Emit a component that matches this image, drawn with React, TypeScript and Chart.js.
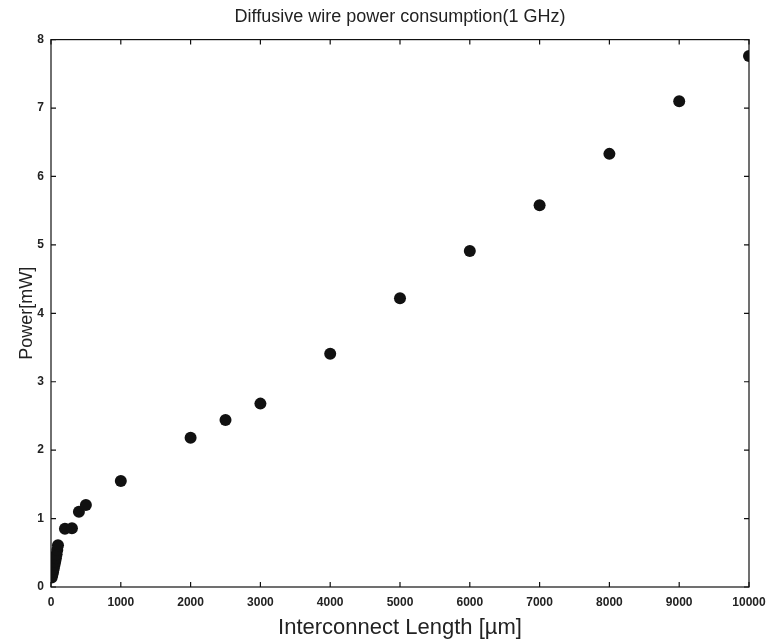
import React, { useEffect, useRef } from "react";
import { Chart, registerables } from "chart.js";

Chart.register(...registerables);

const lengthsUm = [10, 20, 30, 40, 50, 60, 70, 80, 90, 100, 200, 300, 400, 500, 1000, 2000, 2500, 3000, 4000, 5000, 6000, 7000, 8000, 9000, 10000];
const powerMw = [0.14, 0.18, 0.22, 0.27, 0.32, 0.37, 0.42, 0.48, 0.54, 0.61, 0.85, 0.86, 1.1, 1.2, 1.55, 2.18, 2.44, 2.68, 3.41, 4.22, 4.91, 5.58, 6.33, 7.1, 7.76];

const xTicks = [0, 1000, 2000, 3000, 4000, 5000, 6000, 7000, 8000, 9000, 10000];
const yTicks = [0, 1, 2, 3, 4, 5, 6, 7, 8];

const titleText = "Diffusive wire power consumption(1 GHz)";
const xTitle = "Interconnect Length [\u00b5m]";
const yTitle = "Power[mW]";

const FONT = "'Liberation Sans', Arial, Helvetica, sans-serif";

const framePlugin = {
  id: "frame",
  afterDraw(chart: any) {
    const { ctx, chartArea } = chart;
    const { left, right, top, bottom } = chartArea;
    const xs = chart.scales.x;
    const ys = chart.scales.y;
    ctx.save();
    ctx.strokeStyle = "#111";
    ctx.lineWidth = 1.2;
    ctx.strokeRect(left, top, right - left, bottom - top);
    const tl = 5;
    ctx.beginPath();
    xTicks.forEach((v) => {
      const px = xs.getPixelForValue(v);
      ctx.moveTo(px, bottom);
      ctx.lineTo(px, bottom - tl);
      ctx.moveTo(px, top);
      ctx.lineTo(px, top + tl);
    });
    yTicks.forEach((v) => {
      const py = ys.getPixelForValue(v);
      ctx.moveTo(left, py);
      ctx.lineTo(left + tl, py);
      ctx.moveTo(right, py);
      ctx.lineTo(right - tl, py);
    });
    ctx.stroke();
    ctx.restore();
  },
};

export default function App() {
  const ref = useRef<HTMLCanvasElement | null>(null);
  useEffect(() => {
    if (!ref.current) return;
    const chart = new Chart(ref.current, {
      type: "scatter",
      data: {
        datasets: [
          {
            data: lengthsUm.map((x, i) => ({ x, y: powerMw[i] })),
            backgroundColor: "#111",
            borderColor: "#111",
            pointRadius: 6,
            pointHoverRadius: 6,
            borderWidth: 0,
          },
        ],
      },
      options: {
        animation: false,
        responsive: false,
        devicePixelRatio: 1,
        layout: { padding: { left: 0, right: 20, top: 0, bottom: 0 } },
        plugins: {
          legend: { display: false },
          tooltip: { enabled: false },
          title: {
            display: true,
            fullSize: false,
            text: titleText,
            color: "#222",
            font: { family: FONT, size: 18, weight: "normal" },
            padding: { top: 6, bottom: 12 },
          },
        },
        scales: {
          x: {
            type: "linear",
            min: 0,
            max: 10000,
            afterBuildTicks: (s: any) => {
              s.ticks = xTicks.map((v) => ({ value: v }));
            },
            afterFit: (s: any) => {
              s.height = 54;
              s.paddingLeft = 0;
              s.paddingRight = 0;
            },
            grid: { display: false, drawTicks: false },
            border: { display: false },
            ticks: {
              color: "#222",
              padding: 8,
              maxRotation: 0,
              autoSkip: false,
              font: { family: FONT, size: 12, weight: "bold" },
              callback: (v: any) => String(v),
            },
            title: {
              display: true,
              text: xTitle,
              color: "#222",
              font: { family: FONT, size: 22, weight: "normal" },
              padding: { top: 0, bottom: 0 },
            },
          },
          y: {
            type: "linear",
            min: 0,
            max: 8,
            afterBuildTicks: (s: any) => {
              s.ticks = yTicks.map((v) => ({ value: v }));
            },
            afterFit: (s: any) => {
              s.width = 51;
              s.paddingTop = 0;
              s.paddingBottom = 0;
            },
            grid: { display: false, drawTicks: false },
            border: { display: false },
            ticks: {
              color: "#222",
              padding: 7,
              autoSkip: false,
              font: { family: FONT, size: 12, weight: "bold" },
              callback: (v: any) => String(v),
            },
            title: {
              display: true,
              text: yTitle,
              color: "#222",
              font: { family: FONT, size: 18, weight: "normal" },
              padding: { top: 16, bottom: 0 },
            },
          },
        },
      },
      plugins: [framePlugin],
    });
    return () => chart.destroy();
  }, []);
  return (
    <div style={{ position: "fixed", left: 0, top: 0, width: 769, height: 641, background: "#fff" }}>
      <canvas ref={ref} width={769} height={641} style={{ width: 769, height: 641, display: "block" }} />
    </div>
  );
}
